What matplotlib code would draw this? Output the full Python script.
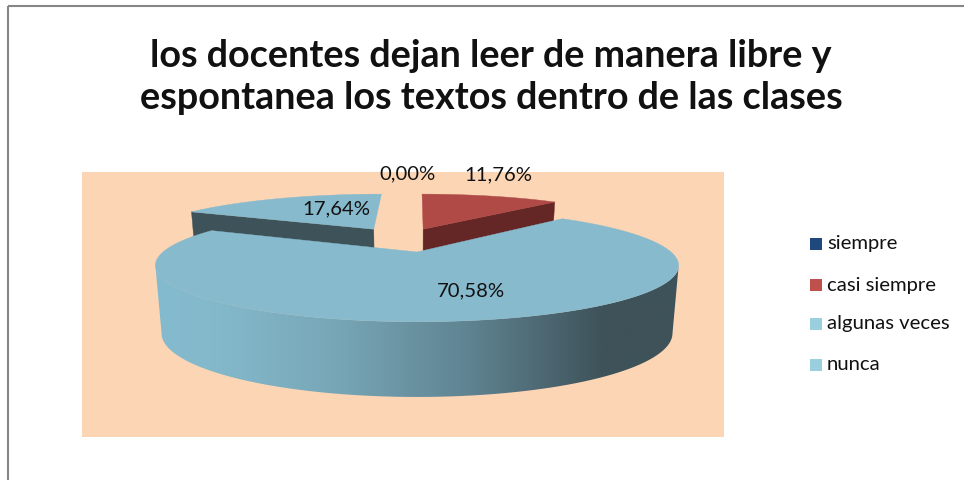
import matplotlib
matplotlib.use('Agg')
import matplotlib.pyplot as plt
import numpy as np
from matplotlib.colors import LinearSegmentedColormap
from matplotlib.patches import Polygon, Rectangle

title = 'los docentes dejan leer de manera libre y\nespontanea los textos dentro de las clases'
categories = ['siempre', 'casi siempre', 'algunas veces', 'nunca']
values = [0.00, 11.76, 70.58, 17.64]

legend_colors = ['#1F497D', '#C0504D', '#9BCFE0', '#9BCFE0']
top_colors = ['#1F497D', '#B04A47', '#87BACD', '#87BACD']
wall_colors = ['#14304F', '#652726', '#3E5259', '#3E5259']
explode = [(0.0, 0.0), (0.027, 0.48), (0.0, 0.0), (-0.19, 0.48)]
label_pos = [(407, 174), (498, 175), (471, 291), (336, 209)]
legend_y = [244, 285, 324, 365]

plt.rcParams['font.family'] = ['Lato', 'DejaVu Sans']

fig = plt.figure(figsize=(9.64, 4.8), dpi=100)
ax = fig.add_axes([0, 0, 1, 1])
ax.set_xlim(0, 964)
ax.set_ylim(480, 0)
ax.axis('off')

# chart frame, only left and top show in the screenshot
ax.plot([8, 8], [480, 6], color='#868686', lw=1.5, solid_capstyle='butt')
ax.plot([8, 964], [6, 6], color='#868686', lw=1.5, solid_capstyle='butt')

ax.add_patch(Rectangle((82, 172), 642, 265, color='#FCD5B5', lw=0))


def project(theta, shift, level):
    # theta in radians clockwise from 12 o'clock, level 0 is top face, 1 is the base
    k = 0.24
    cx = 417
    cy = 252 + 66 * level
    rx = 254 - 6 * level
    ry = 53 + 7 * level
    u = np.sin(theta) + shift[0]
    v = np.cos(theta) + shift[1]
    d = 1 + k * v
    return cx + rx * u / d, cy - ry * v / d


def center(shift, level):
    k = 0.24
    d = 1 + k * shift[1]
    return (417 + (254 - 6 * level) * shift[0] / d,
            252 + 66 * level - (53 + 7 * level) * shift[1] / d)


def face(a0, a1, shift, level):
    th = np.linspace(a0, a1, 200)
    x, y = project(th, shift, level)
    c = center(shift, level)
    return np.column_stack([np.r_[c[0], x], np.r_[c[1], y]])


total = sum(values)
edges = np.r_[0, np.cumsum(values)] / total * 2 * np.pi

# exploded slices go first, the big one covers their walls
# only the radial side that faces the viewer is visible: index 1 = start, -1 = end of arc
for i, side in [(3, 1), (1, -1)]:
    a0, a1 = edges[i], edges[i + 1]
    up = face(a0, a1, explode[i], 0)
    low = face(a0, a1, explode[i], 1)
    quad = np.vstack([up[0], up[side], low[side], low[0]])
    ax.add_patch(Polygon(quad, color=wall_colors[i], lw=0.3))
    ax.add_patch(Polygon(up, color=top_colors[i], lw=0.3))

# big slice, outer wall has the gradient
a0, a1 = edges[2], edges[3]
shift = explode[2]
th = np.linspace(a0, a1, 400)
xt, yt = project(th, shift, 0)
xb, yb = project(th, shift, 1)
t0, t1 = np.argmax(xt), np.argmin(xt)
b0, b1 = np.argmax(xb), np.argmin(xb)
sil_x = np.r_[xt[t0:t1 + 1], xb[b0:b1 + 1][::-1]]
sil_y = np.r_[yt[t0:t1 + 1], yb[b0:b1 + 1][::-1]]
wall = Polygon(np.column_stack([sil_x, sil_y]), color='none', lw=0)
ax.add_patch(wall)
x_stops = [150, 210, 330, 470, 604, 685]
shades = ['#85BBCE', '#84B9CC', '#78A8B8', '#5F8391', '#3E5259', '#3E5259']
pos = [(s - x_stops[0]) / (x_stops[-1] - x_stops[0]) for s in x_stops]
cmap = LinearSegmentedColormap.from_list('side', list(zip(pos, shades)))
img = ax.imshow(np.linspace(0, 1, 512).reshape(1, -1), cmap=cmap, aspect='auto',
                extent=(x_stops[0], x_stops[-1], 400, 200), zorder=2)
img.set_clip_path(wall)
ax.set_xlim(0, 964)
ax.set_ylim(480, 0)
ax.add_patch(Polygon(face(a0, a1, shift, 0), color=top_colors[2], lw=0.3, zorder=3))

for v, p in zip(values, label_pos):
    ax.text(p[0], p[1], f'{v:.2f}%'.replace('.', ','), fontsize=14.6, color='#111111',
            ha='center', va='center', zorder=5)

ax.text(491, 77, title, fontsize=27.2, fontweight='bold', color='#111111', ha='center',
        va='center', linespacing=1.27, zorder=5)

for name, col, y in zip(categories, legend_colors, legend_y):
    ax.add_patch(Rectangle((810, y - 6), 12, 12, color=col, lw=0))
    ax.text(827, y, name, fontsize=14.6, color='#111111', ha='left', va='center')

fig.savefig('out.png', dpi=100)
